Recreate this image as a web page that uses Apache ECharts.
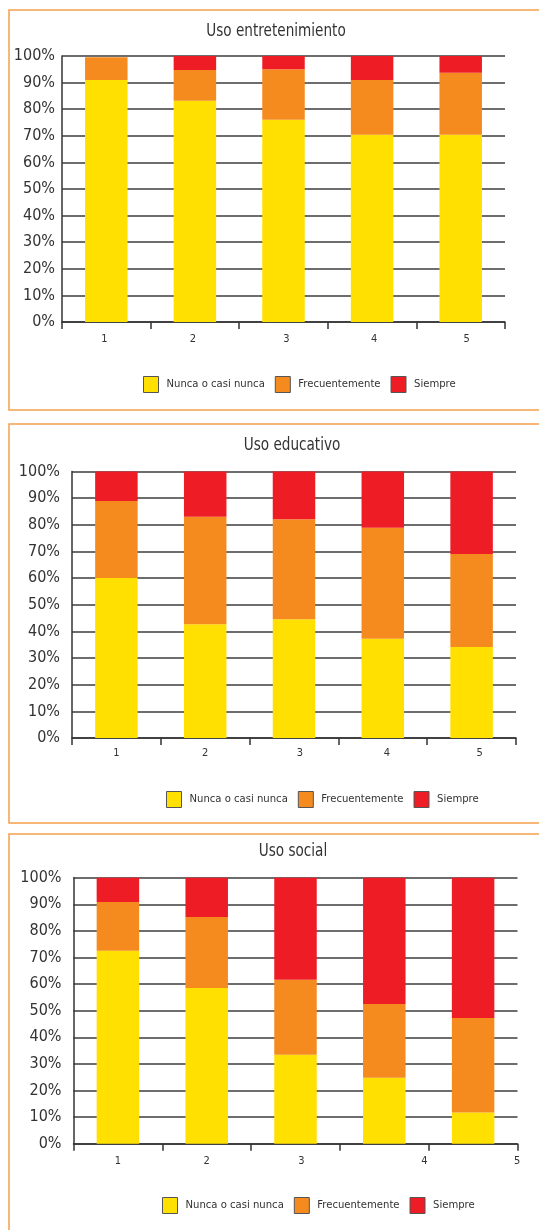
<!DOCTYPE html>
<html>
<head>
<meta charset="utf-8">
<script src="https://cdn.jsdelivr.net/npm/echarts@6/dist/echarts.min.js"></script>
<style>
  html, body { margin: 0; padding: 0; background: #fff; }
  #chart { width: 539px; height: 1230px; }
</style>
</head>
<body>
<div id="chart"></div>
<script>
// Categories on the x axis (same five for every panel)
const categories = ['1', '2', '3', '4', '5'];
const seriesNames = ['Nunca o casi nunca', 'Frecuentemente', 'Siempre'];
const panelTitles = ['Uso entretenimiento', 'Uso educativo', 'Uso social'];

// Percentages per category — Uso entretenimiento
const entNunca = [91, 83.2, 76, 70.4, 70.4];
const entFrec  = [8.5, 11.5, 19, 20.6, 23.3];
const entSiem  = [0, 5.3, 5, 9, 6.3];

// Uso educativo
const eduNunca = [60, 42.7, 44.6, 37.2, 34.1];
const eduFrec  = [28.9, 40.3, 37.5, 41.7, 34.9];
const eduSiem  = [11.1, 17, 17.9, 21.1, 31];

// Uso social
const socNunca = [72.5, 58.5, 33.4, 24.8, 11.7];
const socFrec  = [18.4, 26.7, 28.2, 27.7, 35.6];
const socSiem  = [9.1, 14.8, 38.4, 47.5, 52.7];

const panelData = [
  [entNunca, entFrec, entSiem],
  [eduNunca, eduFrec, eduSiem],
  [socNunca, socFrec, socSiem]
];

// Layout of the three panels
const FONT = '"DejaVu Sans Condensed", "Liberation Sans Narrow", sans-serif';
const colors = ['#FFE000', '#F58B1F', '#EE1C25'];
const layout = [
  { box: [9, 10, 540, 400], grid: { left: 62, top: 56, width: 443, height: 266 },
    title: [276, 31], legend: [143, 376], yMargin: 7, xMargin: 12, shifts: [-2, -2, 3, 2, 6] },
  { box: [9, 424, 540, 399], grid: { left: 72, top: 471.5, width: 444, height: 266.5 },
    title: [292, 445], legend: [166, 791], yMargin: 12, xMargin: 10, shifts: [0, 0, 6, 4, 8] },
  { box: [9, 834, 540, 420], grid: { left: 73.5, top: 877.7, width: 444, height: 266 },
    title: [293, 851], legend: [162, 1197], yMargin: 12, xMargin: 11.5, shifts: [0, 0, 6, 40, 44] }
];

function shiftRich(shifts) {
  const rich = {};
  shifts.forEach((s, i) => {
    rich['s' + i] = {
      fontFamily: FONT, fontSize: 11, color: '#333',
      padding: s >= 0 ? [0, 0, 0, 2 * s] : [0, -2 * s, 0, 0]
    };
  });
  return rich;
}

const grids = [], xAxes = [], yAxes = [], series = [], legends = [], graphics = [];

layout.forEach((L, p) => {
  graphics.push({
    type: 'rect', silent: true, z: -1,
    shape: { x: L.box[0], y: L.box[1], width: L.box[2], height: L.box[3] },
    style: { fill: 'none', stroke: '#F5A04C', lineWidth: 1.5 }
  });
  graphics.push({
    type: 'text', x: L.title[0], y: L.title[1], scaleX: 0.84,
    style: { text: panelTitles[p], font: '18px ' + FONT, fill: '#333',
             textAlign: 'center', textVerticalAlign: 'middle' }
  });

  grids.push(Object.assign({ containLabel: false }, L.grid));

  xAxes.push({
    type: 'category', gridIndex: p, data: categories,
    axisLine: { show: true, lineStyle: { color: '#333', width: 1.5 } },
    axisTick: { show: true, length: 7, lineStyle: { color: '#333', width: 1.5 } },
    axisLabel: {
      margin: L.xMargin,
      formatter: (v, i) => '{s' + i + '|' + v + '}',
      rich: shiftRich(L.shifts)
    },
    splitLine: { show: false }
  });

  yAxes.push({
    type: 'value', gridIndex: p, min: 0, max: 100, interval: 10,
    axisLine: { show: true, lineStyle: { color: '#333', width: 1.5 } },
    axisTick: { show: false },
    axisLabel: { margin: L.yMargin, formatter: '{value}%', fontFamily: FONT, fontSize: 16, color: '#333' },
    splitLine: { show: true, lineStyle: { color: '#3c3c3c', width: 1.5 } }
  });

  seriesNames.forEach((name, k) => {
    series.push({
      name: name, type: 'bar', stack: 'p' + p,
      xAxisIndex: p, yAxisIndex: p,
      barWidth: 42.5,
      data: panelData[p][k],
      itemStyle: { color: colors[k] },
      emphasis: { disabled: true }
    });
  });

  legends.push({
    data: seriesNames, left: L.legend[0], top: L.legend[1],
    orient: 'horizontal', padding: 0, icon: 'rect',
    itemWidth: 15, itemHeight: 16, itemGap: 10,
    itemStyle: { borderColor: '#555', borderWidth: 1 },
    textStyle: { fontFamily: FONT, fontSize: 11.2, color: '#333', padding: [0, 0, 0, 3] },
    selectedMode: false
  });
});

const chart = echarts.init(document.getElementById('chart'), null, { renderer: 'canvas' });
chart.setOption({
  animation: false,
  backgroundColor: '#fff',
  color: colors,
  grid: grids,
  xAxis: xAxes,
  yAxis: yAxes,
  legend: legends,
  series: series,
  graphic: graphics
});
</script>
</body>
</html>
